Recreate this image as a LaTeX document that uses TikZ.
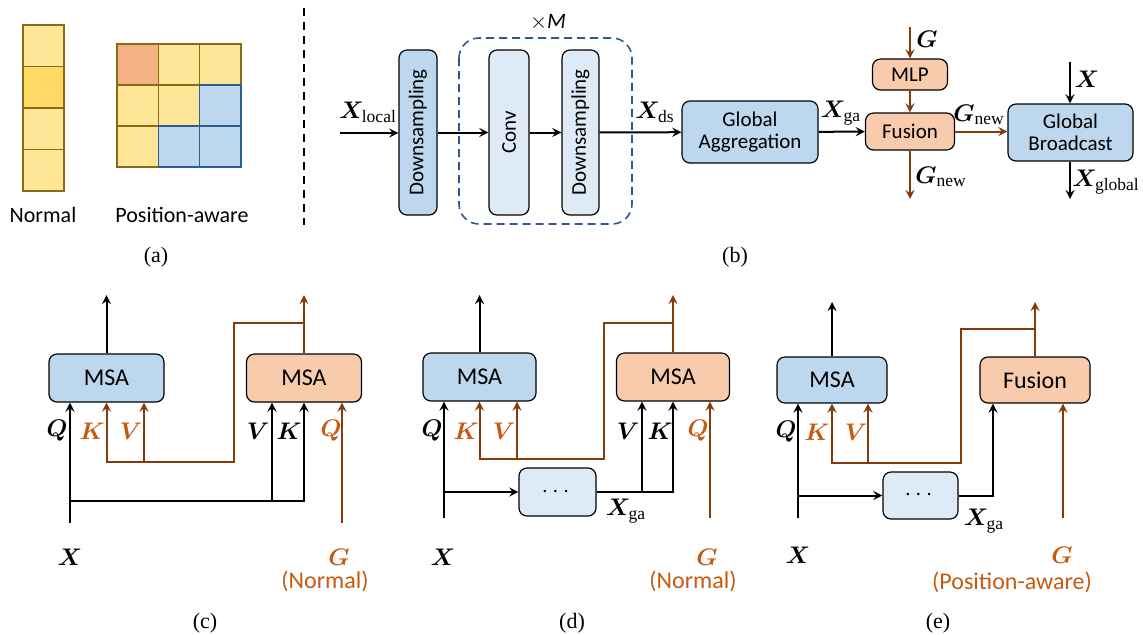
\documentclass[tikz,border=0pt]{standalone}
\usepackage{amsmath}
\usepackage{bm}
\usepackage{fontspec}
\setmainfont{Liberation Serif}
\setsansfont{Carlito}
\usepackage{tikz}
\definecolor{boxblue}{HTML}{BDD7EE}
\definecolor{lightblue}{HTML}{DEEBF7}
\definecolor{boxorange}{HTML}{F8CBAD}
\definecolor{cellyellow}{HTML}{FFE699}
\definecolor{celldark}{HTML}{FFD966}
\definecolor{cellorange}{HTML}{F4B183}
\definecolor{yellowline}{HTML}{8C6A14}
\definecolor{blueline}{HTML}{2E5E8E}
\definecolor{brownline}{HTML}{843C0C}
\definecolor{labelorange}{HTML}{C55A11}
\definecolor{dashblue}{HTML}{2F5597}
\usetikzlibrary{positioning, arrows, calc}
\tikzstyle{arrow} = [line width=1pt,->,>=stealth]

\begin{document}
\begin{tikzpicture}[x=0.5pt,y=-0.5pt]
                    \tikzstyle{every node}=[font=\sffamily]
                    \tikzstyle{box} = [draw=black, line width=0.6pt, rounded corners=4pt, inner sep=0pt]
                    \tikzstyle{bluebox} = [box, fill=boxblue]
                    \tikzstyle{lightbox} = [box, fill=lightblue]
                    \tikzstyle{orangebox} = [box, fill=boxorange]
                    \tikzstyle{barrow} = [arrow, draw=brownline]
                    \tikzstyle{lbl} = [inner sep=0pt, font=\fontsize{12.5}{14}\selectfont]
                    \tikzstyle{olbl} = [lbl, text=labelorange]
                    \tikzstyle{caption} = [font=\rmfamily\fontsize{11}{13}\selectfont]
                    \tikzstyle{btext} = [font=\sffamily\fontsize{10.5}{12}\selectfont, align=center]
                    \tikzstyle{ctext} = [font=\sffamily\fontsize{12}{14}\selectfont]

                    \useasboundingbox (0,0) rectangle (1143,634);

                    % (a) tokens
                    \foreach \i in {0,...,3} {
                        \ifnum\i=1 \def\cc{celldark}\else\def\cc{cellyellow}\fi
                        \draw[draw=yellowline, fill=\cc, line width=0.6pt] (23,25+41.5*\i) rectangle (64,25+41.5*\i+41.5);
                    }
                    \foreach \r/\c/\cc/\lc in {0/0/cellorange/yellowline, 0/1/cellyellow/yellowline, 0/2/cellyellow/yellowline,
                                               1/0/cellyellow/yellowline, 1/1/cellyellow/yellowline, 2/0/cellyellow/yellowline,
                                               1/2/boxblue/blueline, 2/1/boxblue/blueline, 2/2/boxblue/blueline} {
                        \draw[draw=\lc, fill=\cc, line width=0.6pt] (117+41.3*\c,44+41*\r) rectangle (117+41.3*\c+41.3,44+41*\r+41);
                    }
                    \node[font=\sffamily\fontsize{11}{13}\selectfont](normal) at (43,215) {Normal};
                    \node[font=\sffamily\fontsize{11}{13}\selectfont](posaware) at (182,215) {Position-aware};
                    \node[caption](capa) at (156,257) {(a)};
                    \draw[line width=1pt, dash pattern=on 4pt off 3pt] (304,8) -- (304,225);

                    % (b) global block
                    \draw[dashblue, line width=0.8pt, dash pattern=on 4pt off 2.5pt, rounded corners=10pt] (459,38) rectangle (632,224);
                    \node(times) at (548,22) {\fontsize{11}{13}\selectfont$\times$\textit{M}};
                    \node[bluebox, minimum width=19pt, minimum height=82.5pt](ds1) at (418,132.5) {\rotatebox{90}{\fontsize{10.5}{12}\selectfont Downsampling}};
                    \node[lightbox, minimum width=20pt, minimum height=82.5pt](conv) at (509,132.5) {\rotatebox{90}{\fontsize{10.5}{12}\selectfont Conv}};
                    \node[lightbox, minimum width=18.5pt, minimum height=82.5pt](ds2) at (580.5,132.5) {\rotatebox{90}{\fontsize{10.5}{12}\selectfont Downsampling}};
                    \node[bluebox, btext, minimum width=68pt, minimum height=31pt](ga) at (750,132) {Global\\[-1pt]Aggregation};
                    \node[orangebox, btext, minimum width=37.5pt, minimum height=15.5pt](mlp) at (910,74.5) {MLP};
                    \node[orangebox, btext, minimum width=44.5pt, minimum height=18.5pt](fus) at (910,131.5) {Fusion};
                    \node[bluebox, btext, minimum width=62.5pt, minimum height=28.5pt](gb) at (1070.5,132.5) {Global\\[-1pt]Broadcast};

                    \coordinate (xin) at (340,133);
                    \coordinate (gin) at (910,27);
                    \coordinate (gout) at (910,199);
                    \coordinate (xtop) at (1070,62);
                    \coordinate (xbot) at (1070,199);
                    \draw[arrow] (xin) -- (xin -| ds1.west);
                    \draw[arrow] (ds1) -- (conv);
                    \draw[arrow] (conv) -- (ds2);
                    \draw[arrow] (ds2) -- (ga);
                    \draw[arrow] (ga) -- (fus);
                    \draw[barrow] (fus) -- (fus -| gb.west);
                    \draw[barrow] (gin) -- (mlp);
                    \draw[barrow] (mlp) -- (fus);
                    \draw[barrow] (fus) -- (gout);
                    \draw[arrow] (xtop) -- (xtop |- gb.north);
                    \draw[arrow] (xbot |- gb.south) -- (xbot);

                    \node[lbl](xlocal) at (368,112) {$\bm{X}_{\mathrm{local}}$};
                    \node[lbl](xds) at (655,112) {$\bm{X}_{\mathrm{ds}}$};
                    \node[lbl](xga) at (841,113) {$\bm{X}_{\mathrm{ga}}$};
                    \node[lbl](gtop) at (927,39) {$\bm{G}$};
                    \node[lbl](gnew1) at (979,115) {$\bm{G}_{\mathrm{new}}$};
                    \node[lbl](gnew2) at (941,177) {$\bm{G}_{\mathrm{new}}$};
                    \node[lbl](xb) at (1087,79) {$\bm{X}$};
                    \node[lbl](xglobal) at (1106,182) {$\bm{X}_{\mathrm{global}}$};
                    \node[caption](capb) at (735,257) {(b)};

                    % (c) two MSA
                    \node[bluebox, ctext, minimum width=57.5pt, minimum height=24pt](msaA) at (106.5,378) {MSA};
                    \node[orangebox, ctext, minimum width=57.5pt, minimum height=24pt](msaB) at (304,378) {MSA};
                    \coordinate (xc) at (70,523);
                    \coordinate (gc) at (342,523);
                    \coordinate (jc) at (70,501);
                    \coordinate (vc) at (272,501);
                    \coordinate (oA) at (106.5,295);
                    \coordinate (oB) at (304,295);
                    \coordinate (bc) at (304,323);
                    \coordinate (tc) at (234,462);
                    \coordinate (kc) at (144,462);
                    \draw[arrow] (xc) -- (xc |- msaA.south);
                    \draw[arrow] (jc) -| (msaB.south);
                    \draw[arrow] (vc) -- (vc |- msaB.south);
                    \draw[barrow] (gc) -- (gc |- msaB.south);
                    \draw[arrow] (msaA.north) -- (oA);
                    \draw[barrow] (msaB.north) -- (oB);
                    \draw[barrow] (bc) -| (tc) -| (msaA.south);
                    \draw[barrow] (kc) -- (kc |- msaA.south);
                    \node[lbl](qc1) at (57,431) {$\bm{Q}$};
                    \node[olbl](kc1) at (92,431) {$\bm{K}$};
                    \node[olbl](vc1) at (131,431) {$\bm{V}$};
                    \node[lbl](vc2) at (258,431) {$\bm{V}$};
                    \node[lbl](kc2) at (289,431) {$\bm{K}$};
                    \node[olbl](qc2) at (331,431) {$\bm{Q}$};
                    \node[lbl](xlc) at (70,557) {$\bm{X}$};
                    \node[olbl](glc) at (339,557) {$\bm{G}$};
                    \node[ctext, text=labelorange](normc) at (325,581) {(Normal)};
                    \node[caption](capc) at (205,623) {(c)};

                    % (d) MSA with aggregation
                    \node[bluebox, ctext, minimum width=56.5pt, minimum height=24pt](msaC) at (479.5,377) {MSA};
                    \node[orangebox, ctext, minimum width=56.5pt, minimum height=24pt](msaD) at (673,377) {MSA};
                    \node[lightbox, ctext, minimum width=38.5pt, minimum height=24pt](dotsD) at (557.5,492) {$\cdots$};
                    \coordinate (xd) at (444,518);
                    \coordinate (gd) at (710,518);
                    \coordinate (jd) at (444,492);
                    \coordinate (vd) at (642,492);
                    \coordinate (oC) at (479.5,295);
                    \coordinate (oD) at (673,295);
                    \coordinate (bd) at (673,323);
                    \coordinate (td) at (604,459);
                    \coordinate (kd) at (517,459);
                    \draw[arrow] (xd) -- (xd |- msaC.south);
                    \draw[arrow] (jd) -- (dotsD);
                    \draw[arrow] (dotsD) -| (msaD.south);
                    \draw[arrow] (vd) -- (vd |- msaD.south);
                    \draw[barrow] (gd) -- (gd |- msaD.south);
                    \draw[arrow] (msaC.north) -- (oC);
                    \draw[barrow] (msaD.north) -- (oD);
                    \draw[barrow] (bd) -| (td) -| (msaC.south);
                    \draw[barrow] (kd) -- (kd |- msaC.south);
                    \node[lbl](qd1) at (432,431) {$\bm{Q}$};
                    \node[olbl](kd1) at (466,431) {$\bm{K}$};
                    \node[olbl](vd1) at (504,431) {$\bm{V}$};
                    \node[lbl](vd2) at (628,431) {$\bm{V}$};
                    \node[lbl](kd2) at (660,431) {$\bm{K}$};
                    \node[olbl](qd2) at (698,431) {$\bm{Q}$};
                    \node[lbl](xgad) at (626,511) {$\bm{X}_{\mathrm{ga}}$};
                    \node[lbl](xld) at (443,557) {$\bm{X}$};
                    \node[olbl](gld) at (707,557) {$\bm{G}$};
                    \node[ctext, text=labelorange](normd) at (693,581) {(Normal)};
                    \node[caption](capd) at (572,623) {(d)};

                    % (e) MSA with fusion
                    \node[bluebox, ctext, minimum width=55pt, minimum height=23pt](msaE) at (832,380) {MSA};
                    \node[orangebox, ctext, minimum width=55pt, minimum height=23pt](fusE) at (1035,380) {Fusion};
                    \node[lightbox, ctext, minimum width=37.5pt, minimum height=23.5pt](dotsE) at (920.5,495.5) {$\cdots$};
                    \coordinate (xe) at (798,518);
                    \coordinate (ge) at (1063,518);
                    \coordinate (je) at (798,495.5);
                    \coordinate (fe) at (993,495.5);
                    \coordinate (oE) at (832,302);
                    \coordinate (oF) at (1035,302);
                    \coordinate (be) at (1035,329);
                    \coordinate (te) at (961,463);
                    \coordinate (ke) at (868,463);
                    \draw[arrow] (xe) -- (xe |- msaE.south);
                    \draw[arrow] (je) -- (dotsE);
                    \draw[arrow] (dotsE) -| (fe |- fusE.south);
                    \draw[barrow] (ge) -- (ge |- fusE.south);
                    \draw[arrow] (msaE.north) -- (oE);
                    \draw[barrow] (fusE.north) -- (oF);
                    \draw[barrow] (be) -| (te) -| (msaE.south);
                    \draw[barrow] (ke) -- (ke |- msaE.south);
                    \node[lbl](qe1) at (786,432) {$\bm{Q}$};
                    \node[olbl](ke1) at (817,432) {$\bm{K}$};
                    \node[olbl](ve1) at (856,432) {$\bm{V}$};
                    \node[lbl](xgae) at (984,521) {$\bm{X}_{\mathrm{ga}}$};
                    \node[lbl](xle) at (798,555) {$\bm{X}$};
                    \node[olbl](gle) at (1062,555) {$\bm{G}$};
                    \node[ctext, text=labelorange](pose) at (1012,582) {(Position-aware)};
                    \node[caption](cape) at (938,623) {(e)};

            \end{tikzpicture}
\end{document}
